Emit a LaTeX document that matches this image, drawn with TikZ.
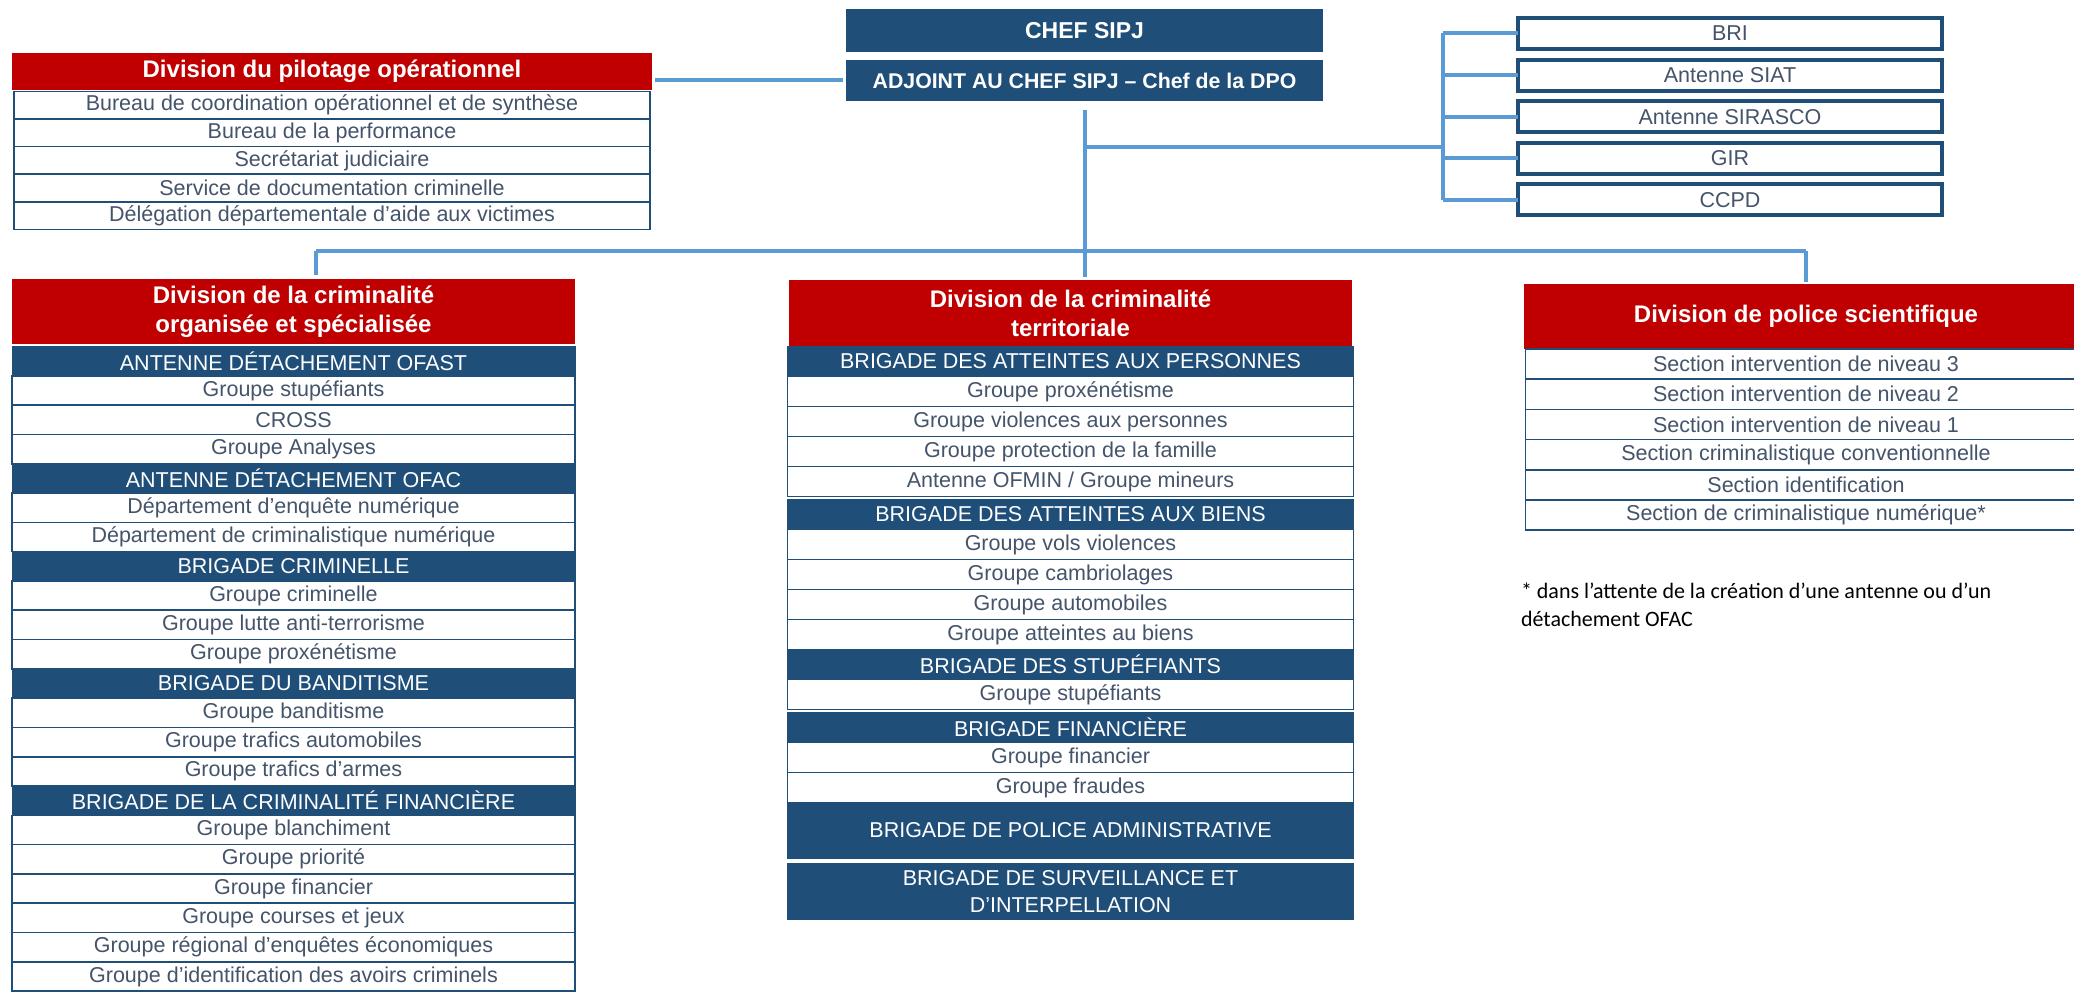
\documentclass[tikz,border=0pt]{standalone}
\usepackage{fontspec}
\setmainfont{Liberation Sans}
\newfontfamily\notefont{Carlito}
\usetikzlibrary{positioning}
\definecolor{sipjred}{HTML}{C00000}
\definecolor{sipjblue}{HTML}{1F4E79}
\definecolor{sipjline}{HTML}{5B9BD5}
\definecolor{sipjtext}{HTML}{44546A}
\tikzset{
  every node/.style={inner sep=0pt, outer sep=0pt},
  chefbox/.style={fill=sipjblue, text=white, font=\bfseries\fontsize{23}{28}\selectfont, minimum width=477pt},
  divhead/.style={fill=sipjred, text=white, align=center, font=\bfseries\fontsize{24}{29}\selectfont, minimum height=65pt},
  bar/.style={fill=sipjblue, draw=sipjblue, line width=.8pt, text=white, align=center, font=\fontsize{21.5}{27}\selectfont},
  bigbar/.style={bar, minimum height=56pt},
  row/.style={fill=white, draw=sipjblue, line width=1.6pt, text=sipjtext, font=\fontsize{21.5}{26}\selectfont},
  unitbox/.style={row, line width=4pt, minimum width=424pt, minimum height=31pt},
  link/.style={draw=sipjline, line width=4pt}
}
\begin{document}
\begin{tikzpicture}[x=1pt, y=-1pt]
\clip (0,0) rectangle (2074,992);
\fill[white] (0,0) rectangle (2074,992);

\node[chefbox, minimum height=43pt] (chef) at (1084.5,30.5) {CHEF SIPJ};
\node[chefbox, minimum height=41pt, font=\bfseries\fontsize{21.3}{26}\selectfont] (adj) at (1084.5,80.5) {ADJOINT AU CHEF SIPJ -- Chef de la DPO};

\node[divhead, minimum height=37pt, minimum width=640pt] (dpo) at (332,71.5) {Division du pilotage opérationnel};
\begin{scope}[nodes={minimum width=636pt, minimum height=27.6pt}]
\node[row, below=1.5pt of dpo] (dpo-1) {Bureau de coordination opérationnel et de synthèse};
\foreach \t [count=\i from 2, remember=\i as \j (initially 1)] in {Bureau de la performance, Secrétariat judiciaire, Service de documentation criminelle, Délégation départementale d’aide aux victimes}
  \node[row, below=0pt of dpo-\j] (dpo-\i) {\t};
\end{scope}

\foreach \t [count=\i] in {BRI, Antenne SIAT, Antenne SIRASCO, GIR, CCPD}
  \node[unitbox] (unit-\i) at (1730,{33.5+41.6*(\i-1)}) {\t};

\node[divhead, minimum width=563pt] (dcos) at (293.5,311.5) {Division de la criminalité\\organisée et spécialisée};
\begin{scope}[nodes={minimum width=563pt, minimum height=29.3pt}]
\node[bar, below=2.5pt of dcos] (dcos-1) {ANTENNE DÉTACHEMENT OFAST};
\foreach \s/\t [count=\i from 2, remember=\i as \j (initially 1)] in {
  row/Groupe stupéfiants, row/CROSS, row/Groupe Analyses,
  bar/ANTENNE DÉTACHEMENT OFAC, row/Département d’enquête numérique, row/Département de criminalistique numérique,
  bar/BRIGADE CRIMINELLE, row/Groupe criminelle, row/Groupe lutte anti-terrorisme, row/Groupe proxénétisme,
  bar/BRIGADE DU BANDITISME, row/Groupe banditisme, row/Groupe trafics automobiles, row/Groupe trafics d’armes,
  bar/BRIGADE DE LA CRIMINALITÉ FINANCIÈRE, row/Groupe blanchiment, row/Groupe priorité, row/Groupe financier,
  row/Groupe courses et jeux, row/Groupe régional d’enquêtes économiques, row/Groupe d’identification des avoirs criminels}
  \node[\s, below=0pt of dcos-\j] (dcos-\i) {\t};
\end{scope}

\node[divhead, minimum width=563pt, alias=dct-0] (dct) at (1070.5,313) {Division de la criminalité\\territoriale};
\begin{scope}[nodes={minimum width=566pt, minimum height=30pt}]
\foreach \g/\s/\t [count=\i, remember=\i as \j (initially 0)] in {
  1/bar/BRIGADE DES ATTEINTES AUX PERSONNES, 0/row/Groupe proxénétisme, 0/row/Groupe violences aux personnes,
  0/row/Groupe protection de la famille, 0/row/{Antenne OFMIN / Groupe mineurs},
  3/bar/BRIGADE DES ATTEINTES AUX BIENS, 0/row/Groupe vols violences, 0/row/Groupe cambriolages,
  0/row/Groupe automobiles, 0/row/Groupe atteintes au biens,
  0/bar/BRIGADE DES STUPÉFIANTS, 0/row/Groupe stupéfiants,
  3/bar/BRIGADE FINANCIÈRE, 0/row/Groupe financier, 0/row/Groupe fraudes,
  0/bigbar/BRIGADE DE POLICE ADMINISTRATIVE, 5/bigbar/{BRIGADE DE SURVEILLANCE ET\\D’INTERPELLATION}}
  \node[\s, below=\g pt of dct-\j] (dct-\i) {\t};
\end{scope}

\node[divhead, minimum width=564pt, alias=dps-0] (dps) at (1806,316.5) {Division de police scientifique};
\begin{scope}[nodes={minimum width=561pt, minimum height=30.2pt}]
\foreach \t [count=\i, remember=\i as \j (initially 0)] in {Section intervention de niveau 3, Section intervention de niveau 2,
  Section intervention de niveau 1, Section criminalistique conventionnelle, Section identification, Section de criminalistique numérique*}
  \node[row, below=0pt of dps-\j] (dps-\i) {\t};
\end{scope}

\node[anchor=north west, align=left, font=\notefont\fontsize{22}{28}\selectfont] (note) at (1521,583)
  {* dans l’attente de la création d’une antenne ou d’un\\détachement OFAC};

\coordinate (brk) at (1443,147);
\coordinate (busL) at (316,251);
\coordinate (busR) at (1806,251);
\draw[link, shorten <=3pt, shorten >=3pt] (adj.west) -- (adj.west -| dpo.east);
\draw[link, shorten <=9pt, shorten >=3pt] (adj.south) -- (adj.south |- dct.north);
\draw[link] (adj.south |- brk) -- (brk);
\draw[link] (brk |- unit-1.west) -- (brk |- unit-5.west);
\foreach \i in {1,...,5}
  \draw[link] (brk |- unit-\i.west) -- (unit-\i.west);
\draw[link] (busL) -- (busR);
\draw[link, shorten >=4pt] (busL) -- (busL |- dcos.north);
\draw[link, shorten >=2pt] (busR) -- (busR |- dps.north);
\end{tikzpicture}
\end{document}
